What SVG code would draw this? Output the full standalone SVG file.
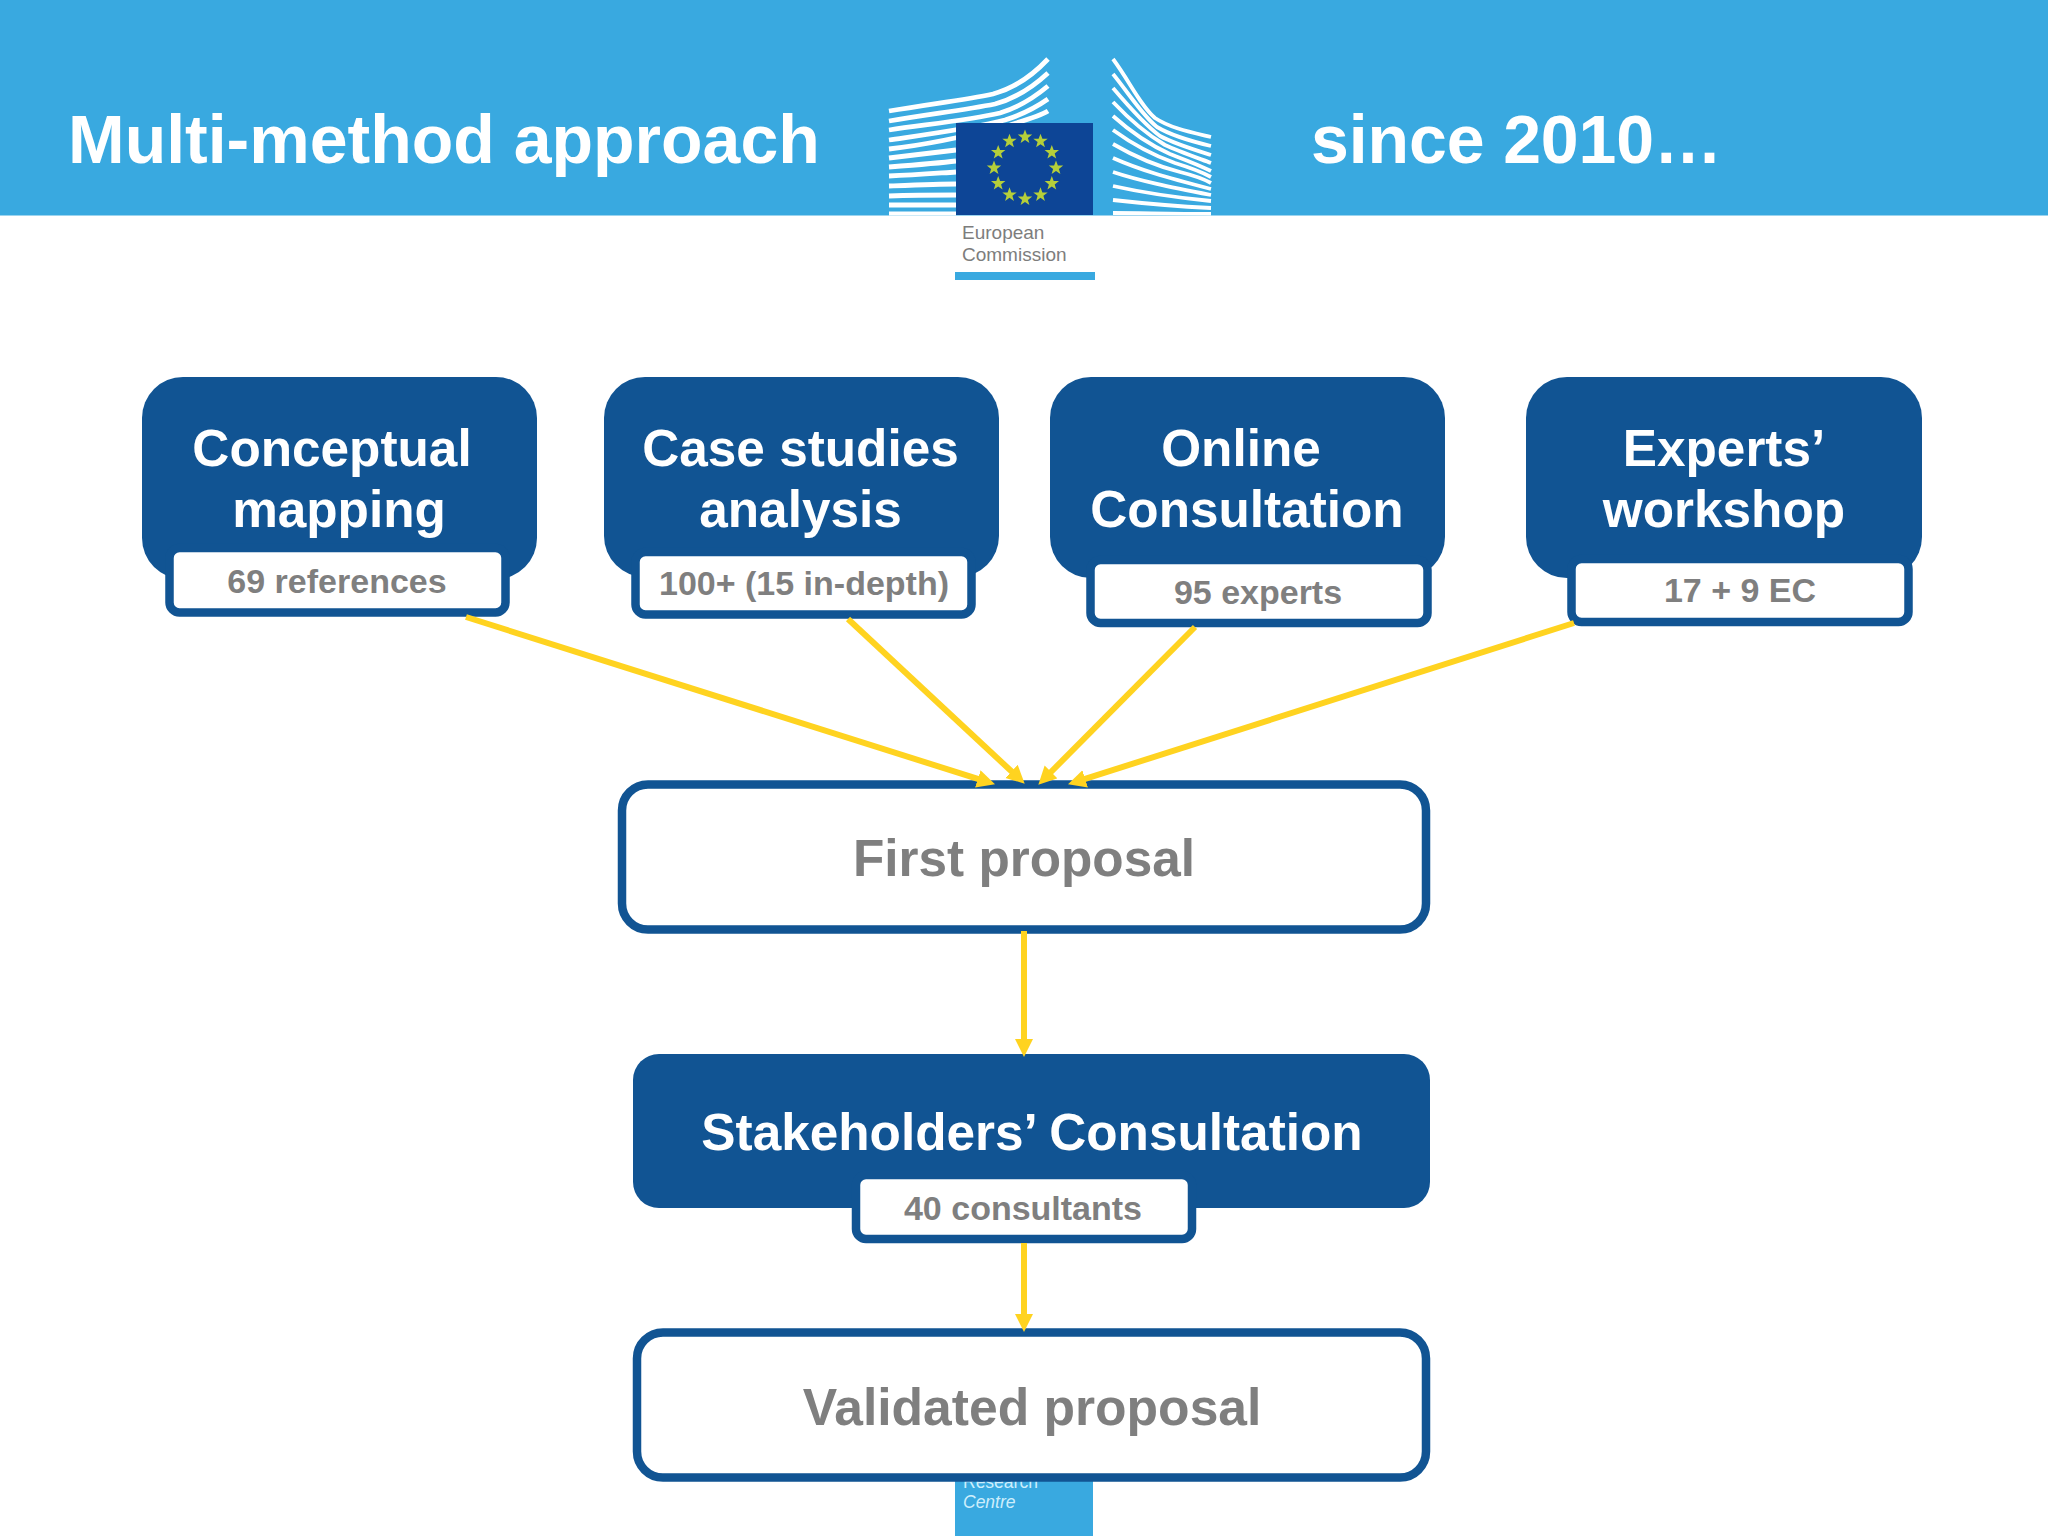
<svg xmlns="http://www.w3.org/2000/svg" xmlns:xlink="http://www.w3.org/1999/xlink" width="2048" height="1536" viewBox="0 0 2048 1536">
<style>
text{font-family:"Liberation Sans",Arial,sans-serif;font-weight:700}
.title{font-size:68px;fill:#fff}
.hd{font-size:51.300px;fill:#fff;text-anchor:middle}
.sub{font-size:34px;fill:#7f7f7f;text-anchor:middle}
.big{font-size:51.300px;fill:#7f7f7f;text-anchor:middle}
.blue{fill:#115493}
.tag{fill:#fff;stroke:#115493;stroke-width:8.5}
.out{fill:#fff;stroke:#115493;stroke-width:8.5}
.conn{stroke:#ffd320;stroke-width:6;fill:none;marker-end:url(#ah)}
.bld path{fill:none;stroke:#fff;stroke-width:4.8}
.bld .r path{stroke-width:3.8}
.logo{font-weight:400;font-size:19px;fill:#7d7d7d}
</style>
<defs>
<marker id="ah" markerUnits="userSpaceOnUse" markerWidth="20" markerHeight="20" refX="5" refY="9" orient="auto">
<path d="M0 0L18 9L0 18Z" fill="#ffd320"/>
</marker>
<polygon id="star" points="0,-7.500 1.900,-2.400 7.200,-2.400 2.900,0.900 4.400,6.100 0,3 -4.400,6.100 -2.900,0.900 -7.200,-2.400 -1.900,-2.400" fill="#b5cf3a"/>
<clipPath id="hc"><rect x="880" y="40" width="340" height="175.500"/></clipPath>
</defs>
<rect width="2048" height="1536" fill="#fff"/>
<g id="header">
<rect width="2048" height="215.500" fill="#39a9e0"/>
<text class="title" x="68" y="163">Multi-method approach</text>
<text class="title" x="1311" y="163" textLength="411">since 2010…</text>
</g>
<g id="logo">
<g class="bld" clip-path="url(#hc)">
<path d="M889 111C930 104 965 100 993 94C1015 88 1032 76 1048 59"/>
<path d="M889 121C930 114 965 110 995 104C1017 98 1034 86 1048 73"/>
<path d="M889 130C930 124 970 120 1000 113C1020 107 1036 96 1048 86"/>
<path d="M889 140C930 134 975 128 1005 120C1024 114 1038 106 1048 99"/>
<path d="M889 149C925 145 960 138 1010 125C1026 120 1040 116 1048 111"/>
<path d="M889 158C915 155 940 152 956 150"/>
<path d="M889 167C915 165 940 163 956 161"/>
<path d="M889 176C915 175 940 173 956 172"/>
<path d="M889 186C915 185 940 184 956 184"/>
<path d="M889 196C915 195 940 195 956 195"/>
<path d="M889 205C915 205 940 205 956 205"/>
<path d="M889 214C915 214 940 214 956 214"/>
<g class="r">
<path d="M1113 59C1130 82 1140 105 1155 118C1170 128 1190 132 1211 137"/>
<path d="M1113 74C1130 95 1142 115 1157 127C1172 136 1190 141 1211 146"/>
<path d="M1113 88C1130 108 1145 125 1160 136C1175 144 1192 149 1211 155"/>
<path d="M1113 102C1130 120 1148 135 1165 145C1178 151 1195 157 1211 163"/>
<path d="M1113 116C1132 133 1152 146 1170 154C1183 159 1197 164 1211 171"/>
<path d="M1113 130C1135 146 1155 156 1175 163C1188 167 1200 171 1211 177"/>
<path d="M1113 144C1137 158 1160 167 1180 172C1192 175 1202 178 1211 183"/>
<path d="M1113 158C1140 170 1165 177 1211 189"/>
<path d="M1113 172C1140 181 1170 187 1211 195"/>
<path d="M1113 186C1140 192 1170 197 1211 201"/>
<path d="M1113 200C1140 203 1170 206 1211 208"/>
<path d="M1113 213C1140 213 1170 214 1211 214"/>
</g>
</g>
<rect x="956" y="123" width="137" height="92" fill="#0d4596"/>
<use xlink:href="#star" href="#star" x="1025" y="137"/>
<use xlink:href="#star" href="#star" x="1040.500" y="141.200"/>
<use xlink:href="#star" href="#star" x="1051.800" y="152.500"/>
<use xlink:href="#star" href="#star" x="1056" y="168"/>
<use xlink:href="#star" href="#star" x="1051.800" y="183.500"/>
<use xlink:href="#star" href="#star" x="1040.500" y="194.800"/>
<use xlink:href="#star" href="#star" x="1025" y="199"/>
<use xlink:href="#star" href="#star" x="1009.500" y="194.800"/>
<use xlink:href="#star" href="#star" x="998.200" y="183.500"/>
<use xlink:href="#star" href="#star" x="994" y="168"/>
<use xlink:href="#star" href="#star" x="998.200" y="152.500"/>
<use xlink:href="#star" href="#star" x="1009.500" y="141.200"/>
<text class="logo" x="962" y="239">European</text>
<text class="logo" x="962" y="261">Commission</text>
<rect x="955" y="272" width="140" height="8" fill="#39a9e0"/>
</g>
<g id="footer-tab">
<rect x="955" y="1440" width="138" height="96" fill="#39a9e0"/>
<text x="963" y="1488" font-size="17.500" fill="#cdeefc" style="font-weight:400">Research</text>
<text x="963" y="1508" font-size="17.500" fill="#cdeefc" style="font-weight:400;font-style:italic">Centre</text>
</g>
<g id="node-conceptual">
<rect class="blue" x="142" y="377" width="395" height="202" rx="41"/>
<rect class="tag" x="169.500" y="548" width="336" height="64.500" rx="10"/>
<text class="hd" x="332" y="466">Conceptual</text>
<text class="hd" x="339" y="527">mapping</text>
<text class="sub" x="337" y="593">69 references</text>
</g>
<g id="node-case">
<rect class="blue" x="604" y="377" width="395" height="200" rx="41"/>
<rect class="tag" x="635.500" y="552" width="336" height="62.500" rx="10"/>
<text class="hd" x="800.500" y="466">Case studies</text>
<text class="hd" x="800.500" y="527">analysis</text>
<text class="sub" x="804" y="595">100+ (15 in-depth)</text>
</g>
<g id="node-online">
<rect class="blue" x="1050" y="377" width="395" height="201" rx="41"/>
<rect class="tag" x="1090.500" y="560" width="337" height="63" rx="10"/>
<text class="hd" x="1241" y="466">Online</text>
<text class="hd" x="1247" y="527">Consultation</text>
<text class="sub" x="1258" y="604">95 experts</text>
</g>
<g id="node-experts">
<rect class="blue" x="1526" y="377" width="396" height="201" rx="41"/>
<rect class="tag" x="1571.500" y="559" width="337" height="63" rx="10"/>
<text class="hd" x="1724" y="466">Experts’</text>
<text class="hd" x="1724" y="527">workshop</text>
<text class="sub" x="1740" y="602">17 + 9 EC</text>
</g>
<g id="node-first">
<rect class="out" x="622" y="784.500" width="804" height="145" rx="26"/>
<text class="big" x="1024" y="876">First proposal</text>
</g>
<g id="node-stakeholders">
<rect class="blue" x="633" y="1054" width="797" height="154" rx="26"/>
<rect class="tag" x="856" y="1175" width="336" height="64" rx="10"/>
<text class="hd" x="1032" y="1150">Stakeholders’ Consultation</text>
<text class="sub" x="1023" y="1220">40 consultants</text>
</g>
<g id="node-validated">
<rect class="out" x="637" y="1332.500" width="789" height="145" rx="26"/>
<text class="big" x="1032" y="1425" style="font-size:51.600px">Validated proposal</text>
</g>
<g id="connectors">
<path class="conn" d="M466 617L982.600 780.400"/>
<path class="conn" d="M848 619L1015.200 774.800"/>
<path class="conn" d="M1195 627L1047.500 775.500"/>
<path class="conn" d="M1574 623L1080.400 780.400"/>
<path class="conn" d="M1024 931V1044"/>
<path class="conn" d="M1024 1243V1319"/>
</g>
</svg>
